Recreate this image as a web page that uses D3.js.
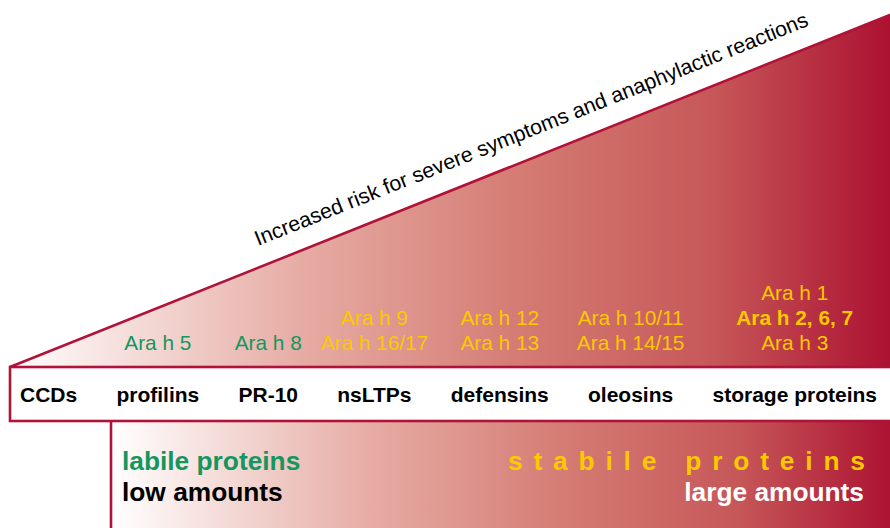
<!DOCTYPE html>
<html>
<head>
<meta charset="utf-8">
<script src="https://cdn.jsdelivr.net/npm/d3@7"></script>
<style>
  html, body { margin: 0; padding: 0; background: #fff; }
  svg { display: block; font-family: "Liberation Sans", Arial, sans-serif; }
</style>
</head>
<body>
<svg id="chart" width="890" height="528"></svg>
<script>
// ---- data ----
const categories = ["CCDs", "profilins", "PR-10", "nsLTPs", "defensins", "oleosins", "storage proteins"];
const allergens = [
  [],
  ["Ara h 5"],
  ["Ara h 8"],
  ["Ara h 9", "Ara h 16/17"],
  ["Ara h 12", "Ara h 13"],
  ["Ara h 10/11", "Ara h 14/15"],
  ["Ara h 1", "Ara h 2, 6, 7", "Ara h 3"]
];
const stability = ["none", "labile", "labile", "stabile", "stabile", "stabile", "stabile"];
const majorAllergens = ["Ara h 2, 6, 7"];
const riskLabel = "Increased risk for severe symptoms and anaphylactic reactions";
const labileLabels = ["labile proteins", "low amounts"];
const stabileLabels = ["stabile proteins", "large amounts"];

// ---- styles ----
const W = 890, H = 528;
const crimson = "#b0123a";
const green = "#14965f";
const yellow = "#fcc800";

const svg = d3.select("#chart");
const defs = svg.append("defs");
function grad(id) {
  const g = defs.append("linearGradient").attr("id", id)
    .attr("x1", "0%").attr("x2", "100%").attr("y1", "0%").attr("y2", "0%");
  [[0, "#ffffff"], [0.33, "#e6aca4"], [0.57, "#d57d75"], [0.8, "#c65758"], [1, "#ac1131"]]
    .forEach(([o, c]) => g.append("stop").attr("offset", o).attr("stop-color", c));
}
grad("gTop"); grad("gBottom");

// scales for the risk wedge
const boxTop = 367, boxBottom = 421, left = 10, apexY = 15;
const xWedge = d3.scaleLinear().domain([0, 1]).range([left, W]);
const yWedge = d3.scaleLinear().domain([0, 1]).range([boxTop, apexY]);

// wedge
svg.append("path")
  .attr("d", d3.line()([[xWedge(0), yWedge(0)], [xWedge(1), yWedge(1)], [xWedge(1), yWedge(0)]]) + "Z")
  .attr("fill", "url(#gTop)");
svg.append("line")
  .attr("x1", xWedge(0)).attr("y1", yWedge(0)).attr("x2", xWedge(1) + 2).attr("y2", yWedge(1) - 0.8)
  .attr("stroke", crimson).attr("stroke-width", 2.6);

// bottom region
const bottomLeft = 111;
svg.append("rect").attr("x", bottomLeft).attr("y", boxBottom).attr("width", W - bottomLeft + 5).attr("height", H - boxBottom + 5)
  .attr("fill", "url(#gBottom)");
svg.append("line").attr("x1", bottomLeft).attr("x2", bottomLeft).attr("y1", boxBottom).attr("y2", H + 2)
  .attr("stroke", crimson).attr("stroke-width", 2.6);

// category box
svg.append("rect").attr("x", left).attr("y", boxTop).attr("width", W - left + 10).attr("height", boxBottom - boxTop)
  .attr("fill", "#fff").attr("stroke", crimson).attr("stroke-width", 2.6);

// category labels laid out with equal gaps
const catG = svg.append("g");
const catText = catG.selectAll("text").data(categories).join("text")
  .attr("y", 402)
  .attr("font-size", 21).attr("font-weight", "bold").attr("fill", "#000")
  .attr("text-anchor", "middle")
  .text(d => d);
const widths = [];
catText.each(function () { widths.push(this.getComputedTextLength()); });
const startX = 20;
const totalW = d3.sum(widths);
const gap = (877 - startX - totalW) / (categories.length - 1);
const centers = [];
let cx = startX;
widths.forEach(w => { centers.push(cx + w / 2); cx += w + gap; });
const xCat = d3.scaleOrdinal().domain(categories).range(centers);
catText.attr("x", d => xCat(d));

// allergen labels, bottom aligned
const lineH = 25, baseY = 350;
categories.forEach((c, i) => {
  const list = allergens[i];
  svg.append("g").selectAll("text").data(list).join("text")
    .attr("x", xCat(c))
    .attr("y", (d, j) => baseY - (list.length - 1 - j) * lineH)
    .attr("text-anchor", "middle")
    .attr("font-size", 20.8)
    .attr("font-weight", d => majorAllergens.includes(d) ? "bold" : "normal")
    .attr("fill", stability[i] === "labile" ? green : yellow)
    .text(d => d);
});

// risk label along the wedge
const ang = Math.atan2(yWedge(1) - yWedge(0), xWedge(1) - xWedge(0)) * 180 / Math.PI;
svg.append("text")
  .attr("transform", `translate(258,246) rotate(${ang})`)
  .attr("font-size", 21.3).attr("fill", "#000")
  .text(riskLabel);

// bottom annotations
svg.append("text").attr("x", 122).attr("y", 470).attr("font-size", 26.3).attr("font-weight", "bold")
  .attr("fill", green).text(labileLabels[0]);
svg.append("text").attr("x", 122).attr("y", 501).attr("font-size", 26.3).attr("font-weight", "bold")
  .attr("fill", "#000").text(labileLabels[1]);
svg.append("text").attr("x", 508).attr("y", 470).attr("font-size", 26.3).attr("font-weight", "bold")
  .attr("fill", yellow).attr("textLength", 357).attr("lengthAdjust", "spacing").text(stabileLabels[0]);
svg.append("text").attr("x", 864).attr("y", 501).attr("font-size", 26.3).attr("font-weight", "bold")
  .attr("text-anchor", "end").attr("fill", "#fff").text(stabileLabels[1]);
</script>
</body>
</html>
